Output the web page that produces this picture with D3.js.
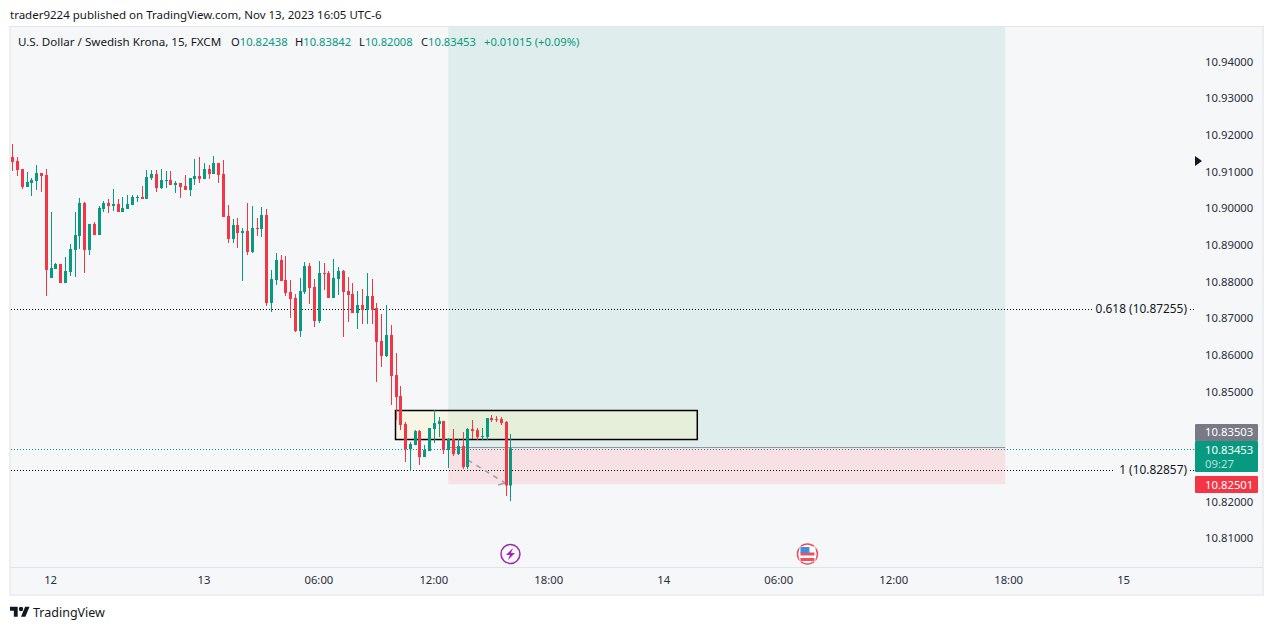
<!DOCTYPE html>
<html>
<head>
<meta charset="utf-8">
<script src="https://d3js.org/d3.v7.min.js"></script>
<style>
  body { margin: 0; background: #fff; }
  svg { display: block; }
  text { font-family: "Noto Sans", Arial, sans-serif; font-size: 11.5px; fill: #131722; }
  .axis text { fill: #2a2e39; font-size: 11.3px; }
  .axis path, .axis line { display: none; }
</style>
</head>
<body>
<div id="chart"></div>
<script>
// candles
var opens = [10.91396,10.91287,10.91068,10.90577,10.90687,10.90741,10.90959,10.90905,10.88096,10.88341,
  10.88478,10.87959,10.88259,10.88860,10.89241,10.90141,10.88860,10.89569,10.89268,10.89978,
  10.90141,10.90059,10.90114,10.89896,10.89978,10.90087,10.90278,10.90305,10.90250,10.90823,
  10.90932,10.90550,10.90741,10.90768,10.90632,10.90687,10.90605,10.90496,10.90796,10.90877,
  10.90796,10.91068,10.90932,10.91232,10.90932,10.89787,10.89160,10.89541,10.89323,10.89378,
  10.88805,10.89460,10.89432,10.89814,10.87414,10.88041,10.88587,10.88041,10.87714,10.87550,
  10.86650,10.87714,10.88423,10.87850,10.86923,10.88232,10.88232,10.87550,10.88068,10.88287,
  10.87741,10.87659,10.87141,10.87359,10.87223,10.87605,10.87278,10.86378,10.85968,10.86541,
  10.85450,10.84877,10.84113,10.83422,10.83540,10.83922,10.83213,10.83377,10.83977,10.84113,
  10.84195,10.83404,10.83704,10.83295,10.83513,10.82941,10.83977,10.83949,10.83759,10.83759,
  10.84277,10.84249,10.84249,10.84168,10.82438];
var highs = [10.91750,10.91396,10.91068,10.90987,10.90823,10.91177,10.90959,10.91068,10.89896,10.88505,
  10.88478,10.88669,10.89023,10.89896,10.90278,10.90169,10.89569,10.89623,10.90059,10.90196,
  10.90250,10.90523,10.90250,10.90305,10.90359,10.90359,10.90359,10.90605,10.91041,10.91041,
  10.91041,10.91068,10.91014,10.91014,10.90741,10.90687,10.90905,10.90823,10.91341,10.91396,
  10.91232,10.91177,10.91423,10.91232,10.91314,10.90087,10.89705,10.89732,10.89460,10.90141,
  10.90059,10.89732,10.90032,10.89978,10.88314,10.88777,10.88723,10.88696,10.88041,10.87659,
  10.88096,10.88532,10.88505,10.88068,10.88559,10.88505,10.88287,10.88614,10.88396,10.88314,
  10.88123,10.87959,10.87741,10.87796,10.88232,10.88068,10.87414,10.87114,10.87359,10.86814,
  10.86050,10.85150,10.84168,10.83622,10.83949,10.83949,10.83540,10.84004,10.84495,10.84304,
  10.84195,10.83731,10.83977,10.83704,10.83895,10.84004,10.84222,10.84004,10.84004,10.84277,
  10.84359,10.84331,10.84304,10.84195,10.83842];
var lows = [10.91014,10.90877,10.90523,10.90577,10.90332,10.90496,10.90441,10.87605,10.88096,10.88341,
  10.87959,10.87959,10.88150,10.88123,10.88887,10.88232,10.88723,10.89268,10.89268,10.89896,
  10.89869,10.89923,10.89896,10.89896,10.89978,10.90087,10.90169,10.90250,10.90250,10.90768,
  10.90441,10.90523,10.90550,10.90632,10.90414,10.90278,10.90496,10.90332,10.90632,10.90687,
  10.90796,10.90796,10.90932,10.90687,10.89759,10.89050,10.89050,10.88914,10.88014,10.88723,
  10.88778,10.89241,10.89214,10.87332,10.87169,10.87905,10.88014,10.87605,10.87005,10.86623,
  10.86487,10.87659,10.87387,10.86759,10.86869,10.87768,10.87550,10.87550,10.87632,10.86487,
  10.86896,10.87141,10.86705,10.86841,10.86841,10.86841,10.85259,10.85669,10.85941,10.84632,
  10.84223,10.83950,10.83077,10.82831,10.83540,10.82995,10.83213,10.83377,10.83595,10.83759,
  10.83295,10.82913,10.83240,10.83268,10.82886,10.82886,10.83704,10.83677,10.83677,10.83677,
  10.84168,10.84168,10.84086,10.82150,10.82008];
var closes = [10.91259,10.91041,10.90577,10.90714,10.90768,10.90959,10.90877,10.88314,10.88368,10.88478,
  10.87959,10.88287,10.88887,10.89268,10.90141,10.88860,10.89569,10.89268,10.90005,10.90141,
  10.90059,10.90114,10.89896,10.90005,10.90114,10.90305,10.90305,10.90250,10.90850,10.90932,
  10.90550,10.90768,10.90768,10.90632,10.90687,10.90577,10.90496,10.90823,10.90877,10.90796,
  10.91068,10.90932,10.91232,10.90905,10.89759,10.89160,10.89541,10.89323,10.89378,10.88805,
  10.89460,10.89432,10.89814,10.87414,10.88068,10.88587,10.88014,10.87687,10.87523,10.86650,
  10.87741,10.88423,10.87823,10.86923,10.88232,10.88205,10.87550,10.88096,10.88287,10.87714,
  10.87632,10.87141,10.87359,10.87223,10.87605,10.87223,10.86350,10.85968,10.86541,10.85423,
  10.84850,10.84087,10.83422,10.83568,10.83922,10.83213,10.83404,10.84004,10.84140,10.84195,
  10.83404,10.83704,10.83295,10.83513,10.82941,10.83977,10.83922,10.83759,10.83786,10.84277,
  10.84222,10.84222,10.84140,10.82438,10.83453];

var priceTicks = [10.94,10.93,10.92,10.91,10.90,10.89,10.88,10.87,10.86,10.85,10.82,10.81];
var timeBars = [8,40,64,88,112,136,160,184,208,232];
var timeLabels = ["12","13","06:00","12:00","18:00","14","06:00","12:00","18:00","15"];

var entryPrice = 10.83503, stopPrice = 10.82501, targetTop = 10.96;
var positionBars = [91,207.3];
var boxBars = [80,143], boxPrices = [10.84482,10.83691];
var fibPrices = [10.87255,10.82857], fibLabels = ["0.618 (10.87255)","1 (10.82857)"];
var lastPrice = 10.83453;
var arrowBars = [95.1,102.9], arrowPrices = [10.83132,10.82505];
var eventBars = [104,166];
var markerPrice = 10.91286;

var up = "#089981", down = "#f23645";

var svg = d3.select("#chart").append("svg").attr("width", 1273).attr("height", 630);

// bar index -> px, price -> px
var x = d3.scaleLinear().domain([0,232]).range([12.3,1123.6]);
var y = d3.scaleLinear().domain([10.94,10.81]).range([61.5,538.2]);

var bg = "#f5f7f9";
svg.append("rect").attr("x",9.5).attr("y",26.5).attr("width",1254).attr("height",569)
  .attr("fill",bg).attr("stroke","#e3e5ec");
svg.append("rect").attr("x",9).attr("y",27).attr("width",2).attr("height",568).attr("fill","#eceef3");
svg.append("rect").attr("x",1262).attr("y",27).attr("width",2).attr("height",568).attr("fill","#eceef3");
svg.append("rect").attr("x",9).attr("y",594).attr("width",1255).attr("height",2).attr("fill","#eceef3");
svg.append("line").attr("x1",10).attr("x2",1263).attr("y1",567.5).attr("y2",567.5).attr("stroke","#e0e3eb");

svg.append("clipPath").attr("id","pane").append("rect").attr("x",11).attr("y",27).attr("width",1184).attr("height",540);
var pane = svg.append("g").attr("clip-path","url(#pane)");

// long position zones
pane.append("rect").attr("x",x(positionBars[0])).attr("width",x(positionBars[1])-x(positionBars[0]))
  .attr("y",y(targetTop)).attr("height",y(entryPrice)-y(targetTop)).attr("fill","#dfeeec");
pane.append("rect").attr("x",x(positionBars[0])).attr("width",x(positionBars[1])-x(positionBars[0]))
  .attr("y",y(entryPrice)+1).attr("height",y(stopPrice)-y(entryPrice)).attr("fill","#f7e1e4");

// supply box
pane.append("rect").attr("x",x(boxBars[0])).attr("width",x(boxBars[1])-x(boxBars[0]))
  .attr("y",y(boxPrices[0])).attr("height",y(boxPrices[1])-y(boxPrices[0]))
  .attr("fill","#fff59d").attr("fill-opacity",.22).attr("stroke","#000").attr("stroke-width",1.5);

pane.append("line").attr("x1",x(positionBars[0])).attr("x2",x(positionBars[1]))
  .attr("y1",y(entryPrice)+1).attr("y2",y(entryPrice)+1).attr("stroke","#8a8d96").attr("stroke-width",1);

// last price
pane.append("line").attr("x1",11).attr("x2",1195).attr("y1",Math.round(y(lastPrice))+1.5).attr("y2",Math.round(y(lastPrice))+1.5)
  .attr("stroke",up).attr("stroke-dasharray","1 2");

// fib levels, broken around the label
var fibGaps = [[1093,1190],[1115,1190]];
fibPrices.forEach(function(p,i) {
  [[11,fibGaps[i][0]],[fibGaps[i][1],1195]].forEach(function(seg) {
    pane.append("line").attr("x1",seg[0]).attr("x2",seg[1]).attr("y1",Math.round(y(p))+.5).attr("y2",Math.round(y(p))+.5)
      .attr("stroke","#000").attr("stroke-dasharray","1 2");
  });
  pane.append("text").attr("x",1187).attr("y",y(p)+4).attr("text-anchor","end").style("font-size","11.9px").text(fibLabels[i]);
});

// dashed projection
pane.append("line").attr("x1",x(arrowBars[0])).attr("x2",x(arrowBars[1]))
  .attr("y1",y(arrowPrices[0])).attr("y2",y(arrowPrices[1]))
  .attr("stroke","#a19dac").attr("stroke-width",1.5).attr("stroke-dasharray","5 5");
pane.append("line").attr("x1",x(arrowBars[1])-7).attr("x2",x(arrowBars[1]))
  .attr("y1",y(arrowPrices[1])+2).attr("y2",y(arrowPrices[1]))
  .attr("stroke","#a19dac").attr("stroke-width",1.5);

// candles
var bars = pane.selectAll("g.bar").data(opens).enter().append("g").attr("class","bar");
function barColor(d,i) { return closes[i] >= opens[i] ? up : down; }
bars.append("line")
  .attr("x1",function(d,i){ return Math.round(x(i))+.5; })
  .attr("x2",function(d,i){ return Math.round(x(i))+.5; })
  .attr("y1",function(d,i){ return y(highs[i]); })
  .attr("y2",function(d,i){ return y(lows[i]); })
  .attr("stroke",barColor);
bars.append("rect")
  .attr("x",function(d,i){ return Math.round(x(i))-1; })
  .attr("width",3)
  .attr("y",function(d,i){ return y(Math.max(opens[i],closes[i])); })
  .attr("height",function(d,i){ return Math.max(1,Math.abs(y(opens[i])-y(closes[i]))); })
  .attr("fill",barColor);

// axes
svg.append("g").attr("class","axis").attr("transform","translate(1205,0)")
  .call(d3.axisRight(y).tickValues(priceTicks).tickSize(0).tickPadding(0).tickFormat(d3.format(".5f")));
svg.append("g").attr("class","axis").attr("transform","translate(-.5,568)")
  .call(d3.axisBottom(x).tickValues(timeBars).tickSize(0).tickPadding(8).tickFormat(function(d,i){ return timeLabels[i]; }));

// price labels on the scale
function priceTag(top,h,color) {
  svg.append("rect").attr("x",1195).attr("y",top).attr("width",63).attr("height",h).attr("rx",1).attr("fill",color);
}
function tagText(yy,str,color) {
  svg.append("text").attr("x",1205).attr("y",yy).style("fill",color).style("font-size","11.3px").text(str);
}
priceTag(424,17,"#787b86"); tagText(436,d3.format(".5f")(entryPrice),"#fff");
priceTag(441,31,up); tagText(453.5,d3.format(".5f")(lastPrice),"#fff"); tagText(467.5,"09:27","#b5e0d7");
priceTag(476,17,down); tagText(489,d3.format(".5f")(stopPrice),"#fff");

// marker on the scale
svg.append("path").attr("d","M0,-5 L7,0 L0,5 Z")
  .attr("transform","translate(1195,"+y(markerPrice)+")").attr("fill","#131722");

// events
var ev = svg.append("g").attr("transform","translate("+x(eventBars[0])+",554)");
ev.append("circle").attr("r",9.5).attr("fill",bg).attr("stroke","#9c27b0").attr("stroke-width",1.5);
ev.append("path").attr("d","M2.5,-6 L-4.5,1 L-0.5,1 L-2.5,6 L4.5,-1 L0.5,-1 Z").attr("fill","#9c27b0");
var fl = svg.append("g").attr("transform","translate("+x(eventBars[1])+",554)");
fl.append("circle").attr("r",10).attr("fill","#fff").attr("stroke","#f0505a").attr("stroke-width",1.5);
fl.append("rect").attr("x",-8).attr("y",-7.5).attr("width",16).attr("height",15).attr("fill","#fff");
fl.append("rect").attr("x",-7).attr("y",-1.5).attr("width",14).attr("height",3).attr("fill","#f0505a");
fl.append("rect").attr("x",-7).attr("y",4).attr("width",14).attr("height",3).attr("fill","#f0505a");
fl.append("rect").attr("x",-7).attr("y",-7).attr("width",9).attr("height",6).attr("fill","#3f8fe0");

// header
svg.append("text").attr("x",10).attr("y",19).text("trader9224 published on TradingView.com, Nov 13, 2023 16:05 UTC-6");
svg.append("text").attr("x",18).attr("y",46).style("font-size","11.6px").text("U.S. Dollar / Swedish Krona, 15, FXCM");
var ohlcNames = ["O","H","L","C"], ohlcValues = ["10.82438","10.83842","10.82008","10.83453"], ohlcX = [231,295,359,421];
ohlcNames.forEach(function(n,i) {
  var t = svg.append("text").attr("x",ohlcX[i]).attr("y",46).style("font-size","11.2px");
  t.append("tspan").text(n);
  t.append("tspan").style("fill",up).text(ohlcValues[i]);
});
svg.append("text").attr("x",484).attr("y",46).style("fill",up).style("font-size","11.2px").text("+0.01015 (+0.09%)");

// logo
var logo = svg.append("g").attr("transform","translate(10,604.6) scale(.55)");
logo.append("path").attr("d","M14 22H7V11H0V4h14v18zM28 22h-8l7.5-18h8L28 22z").attr("fill","#131722");
logo.append("circle").attr("cx",20).attr("cy",8).attr("r",4).attr("fill","#131722");
svg.append("text").attr("x",33).attr("y",617).style("font-size","12.5px").text("TradingView");
</script>
</body>
</html>
